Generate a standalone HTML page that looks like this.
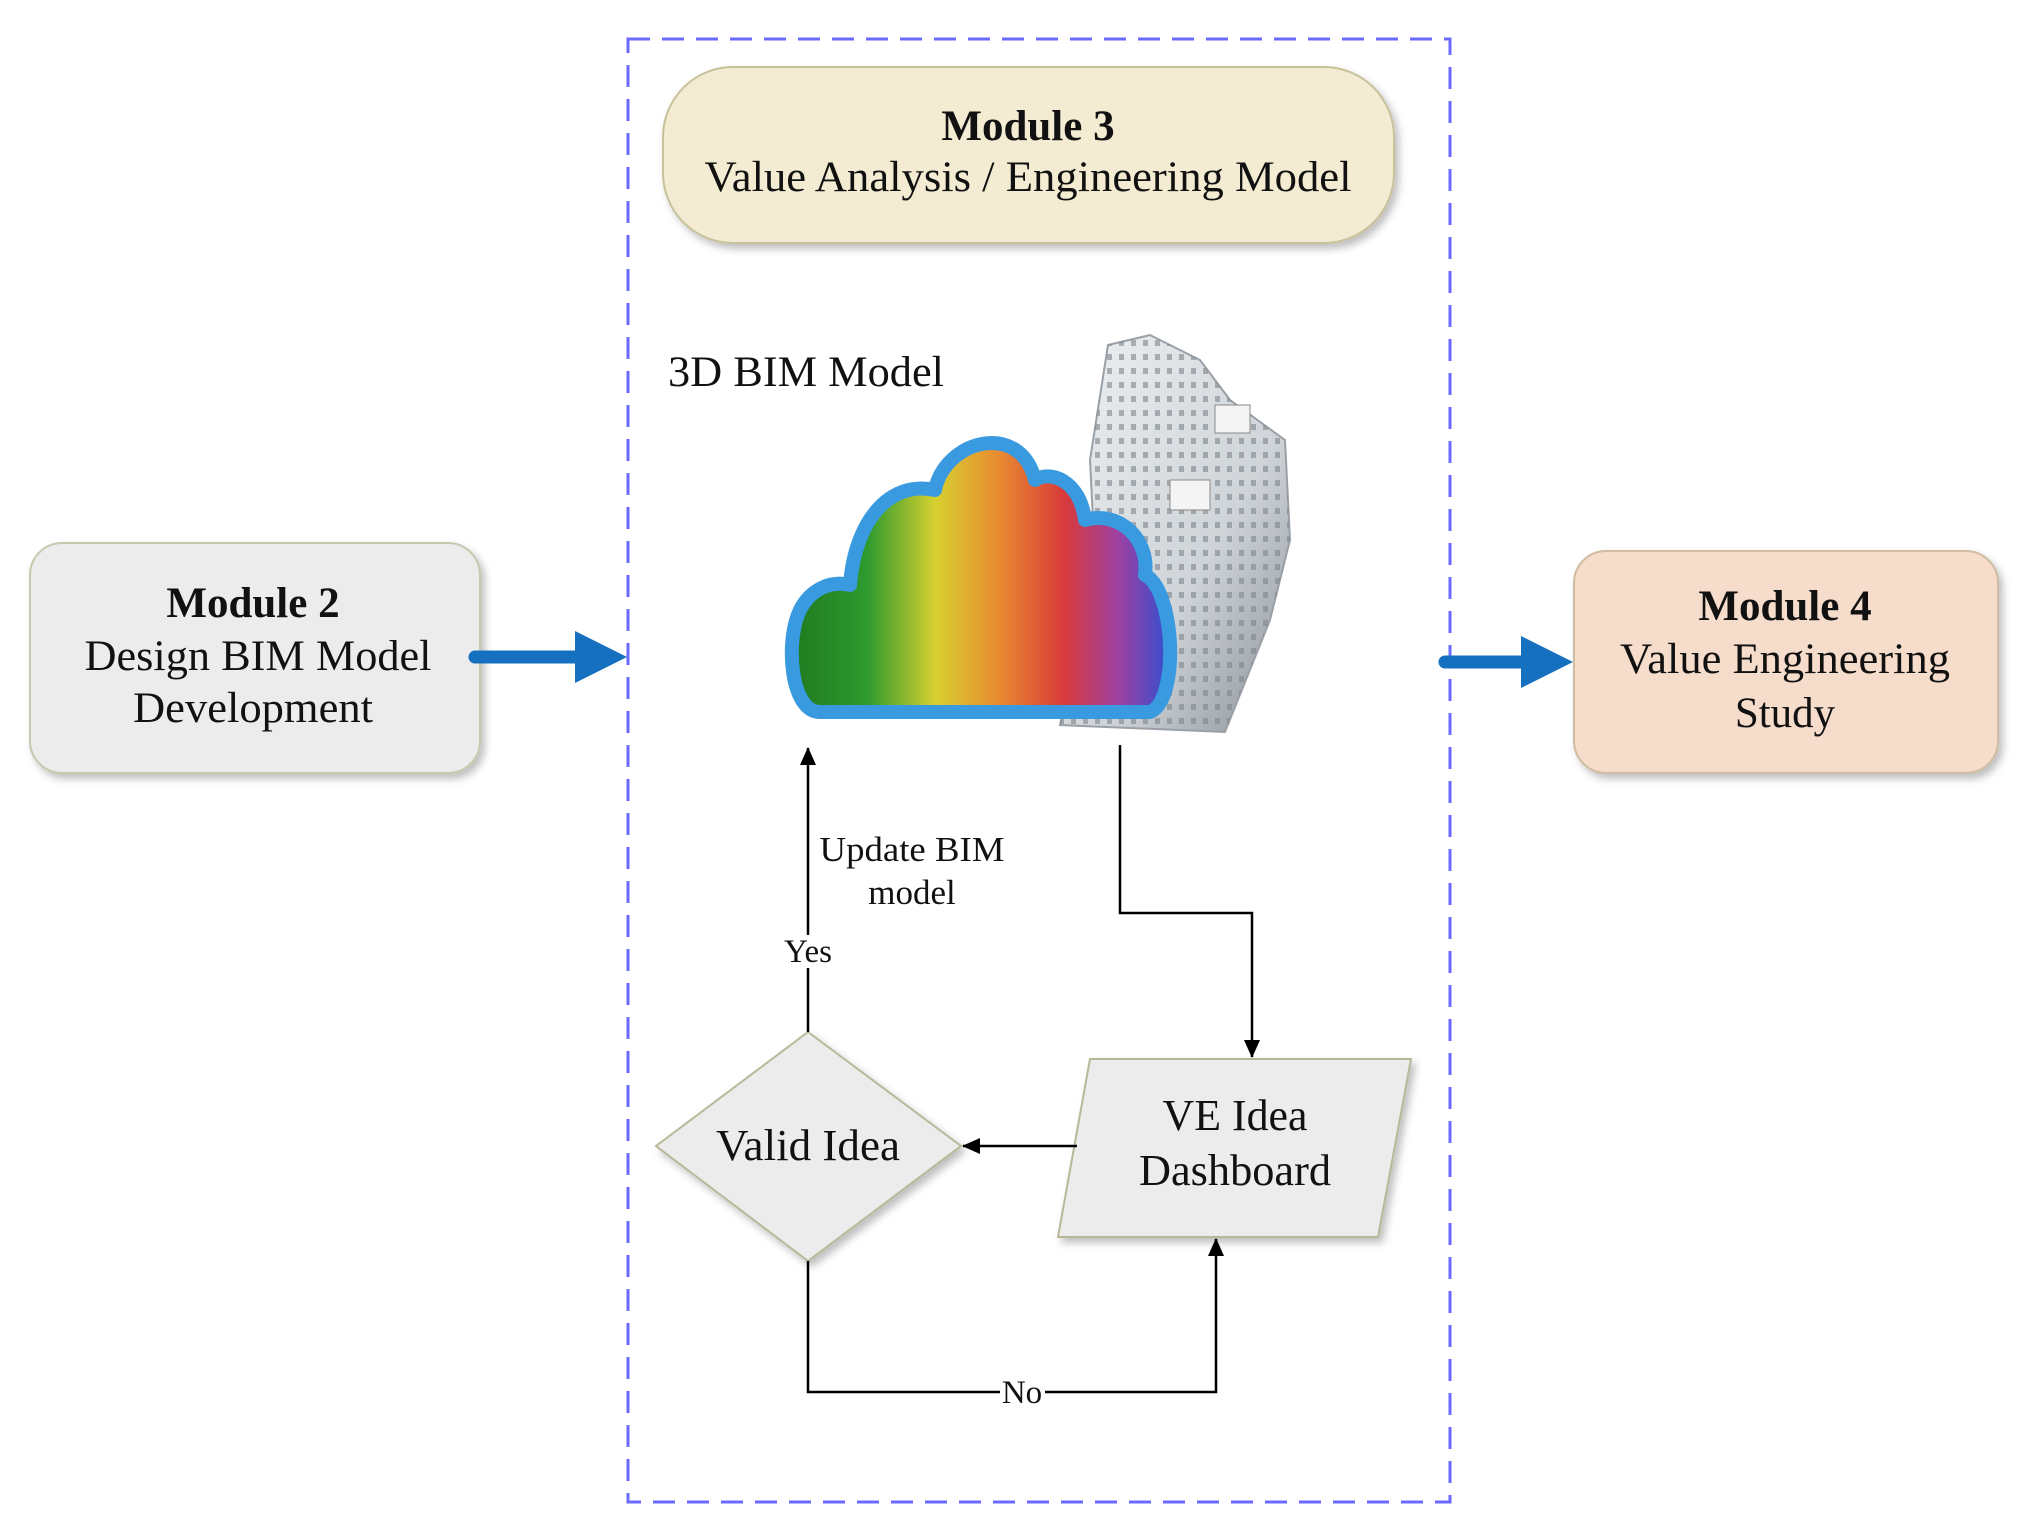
<!DOCTYPE html>
<html><head><meta charset="utf-8"><style>
html,body{margin:0;padding:0;background:#fff;}
svg{display:block;}
text{font-family:"Liberation Serif",serif;fill:#111;}
</style></head><body>
<svg width="2028" height="1536" viewBox="0 0 2028 1536" xmlns="http://www.w3.org/2000/svg">
<defs>
<filter id="sh" x="-10%" y="-10%" width="130%" height="130%"><feDropShadow dx="4" dy="5" stdDeviation="4" flood-color="#000" flood-opacity="0.25"/></filter>
<linearGradient id="rb" x1="0" y1="0" x2="1" y2="0">
<stop offset="0" stop-color="#1f7a1f"/><stop offset="0.2" stop-color="#2e9a2e"/><stop offset="0.38" stop-color="#d8d030"/><stop offset="0.55" stop-color="#e88a30"/><stop offset="0.72" stop-color="#d83a3a"/><stop offset="0.86" stop-color="#a040a0"/><stop offset="1" stop-color="#3050d0"/>
</linearGradient>
<linearGradient id="bg" x1="0" y1="0" x2="1" y2="1"><stop offset="0" stop-color="#eef1f3"/><stop offset="0.6" stop-color="#cfd4d8"/><stop offset="1" stop-color="#8a9096"/></linearGradient>
<pattern id="win" width="12" height="14" patternUnits="userSpaceOnUse"><rect width="12" height="14" fill="none"/><rect x="3" y="4" width="5" height="6" fill="#7d858c" opacity="0.6"/></pattern>
<marker id="ah" markerWidth="18" markerHeight="16" refX="17" refY="8" orient="auto" markerUnits="userSpaceOnUse"><path d="M0,0 L18,8 L0,16 Z" fill="#000"/></marker>
</defs>

<rect x="628" y="39" width="822" height="1463" fill="none" stroke="#6a6aff" stroke-width="3" stroke-dasharray="22,12"/>

<rect x="663" y="67" width="731" height="176" rx="70" fill="#f3ecd2" stroke="#c8c29a" stroke-width="2" filter="url(#sh)"/>
<text x="1028" y="140" font-size="43" font-weight="bold" text-anchor="middle">Module 3</text>
<text x="1028" y="191" font-size="43" text-anchor="middle" textLength="647" lengthAdjust="spacingAndGlyphs">Value Analysis / Engineering Model</text>

<rect x="30" y="543" width="450" height="230" rx="32" fill="#ececec" stroke="#c8c8b0" stroke-width="2" filter="url(#sh)"/>
<text x="253" y="617" font-size="43" font-weight="bold" text-anchor="middle">Module 2</text>
<text x="258" y="670" font-size="43" text-anchor="middle" textLength="347" lengthAdjust="spacingAndGlyphs">Design BIM Model</text>
<text x="253" y="722" font-size="43" text-anchor="middle" textLength="240" lengthAdjust="spacingAndGlyphs">Development</text>

<rect x="1574" y="551" width="424" height="222" rx="32" fill="#f5dccb" stroke="#d0bca0" stroke-width="2" filter="url(#sh)"/>
<text x="1785" y="620" font-size="43" font-weight="bold" text-anchor="middle">Module 4</text>
<text x="1785" y="673" font-size="43" text-anchor="middle" textLength="330" lengthAdjust="spacingAndGlyphs">Value Engineering</text>
<text x="1785" y="727" font-size="43" text-anchor="middle">Study</text>

<line x1="475" y1="657" x2="580" y2="657" stroke="#1670c0" stroke-width="13" stroke-linecap="round"/>
<path d="M575,631 L627,657 L575,683 Z" fill="#1670c0"/>
<line x1="1445" y1="662" x2="1525" y2="662" stroke="#1670c0" stroke-width="13" stroke-linecap="round"/>
<path d="M1521,636 L1573,662 L1521,688 Z" fill="#1670c0"/>

<text x="668" y="386" font-size="43" textLength="276" lengthAdjust="spacingAndGlyphs">3D BIM Model</text>

<polygon points="1108,345 1150,335 1200,360 1230,400 1285,440 1290,540 1270,620 1225,732 1060,725 1095,560 1090,460" fill="url(#bg)" stroke="#9aa0a6" stroke-width="2"/>
<polygon points="1108,345 1150,335 1200,360 1230,400 1285,440 1290,540 1270,620 1225,732 1060,725 1095,560 1090,460" fill="url(#win)"/>
<rect x="1170" y="480" width="40" height="30" fill="#f4f4f4" stroke="#888"/>
<rect x="1215" y="405" width="35" height="28" fill="#f4f4f4" stroke="#888"/>

<path d="M820,712 C790,712 785,640 800,610 C810,590 830,580 850,585 C855,520 890,480 935,490 C945,440 1020,420 1035,480 C1050,470 1080,480 1085,520 C1120,510 1150,540 1145,575 C1175,590 1180,700 1150,712 Z" fill="url(#rb)" stroke="#3a9ae0" stroke-width="14" stroke-linejoin="round"/>

<polyline points="1120,745 1120,913 1252,913 1252,1057" fill="none" stroke="#000" stroke-width="2.5" marker-end="url(#ah)"/>

<polygon points="1090,1059 1411,1059 1378,1237 1058,1237" fill="#ececec" stroke="#b8b898" stroke-width="2" filter="url(#sh)"/>
<text x="1235" y="1130" font-size="44" text-anchor="middle" textLength="145" lengthAdjust="spacingAndGlyphs">VE Idea</text>
<text x="1235" y="1185" font-size="44" text-anchor="middle" textLength="192" lengthAdjust="spacingAndGlyphs">Dashboard</text>

<line x1="1077" y1="1146" x2="963" y2="1146" stroke="#000" stroke-width="2.5" marker-end="url(#ah)"/>

<polygon points="808,1032 961,1146 808,1261 656,1146" fill="#ececec" stroke="#b8b898" stroke-width="2" filter="url(#sh)"/>
<text x="808" y="1160" font-size="44" text-anchor="middle" textLength="184" lengthAdjust="spacingAndGlyphs">Valid Idea</text>

<line x1="808" y1="1032" x2="808" y2="968" stroke="#000" stroke-width="2.5"/>
<line x1="808" y1="935" x2="808" y2="748" stroke="#000" stroke-width="2.5" marker-end="url(#ah)"/>
<text x="808" y="962" font-size="33" text-anchor="middle">Yes</text>
<text x="912" y="861" font-size="35" text-anchor="middle" textLength="185" lengthAdjust="spacingAndGlyphs">Update BIM</text>
<text x="912" y="904" font-size="35" text-anchor="middle">model</text>

<polyline points="808,1261 808,1392 1000,1392" fill="none" stroke="#000" stroke-width="2.5"/>
<polyline points="1045,1392 1216,1392 1216,1239" fill="none" stroke="#000" stroke-width="2.5" marker-end="url(#ah)"/>
<text x="1022" y="1403" font-size="33" text-anchor="middle">No</text>
</svg>
</body></html>
